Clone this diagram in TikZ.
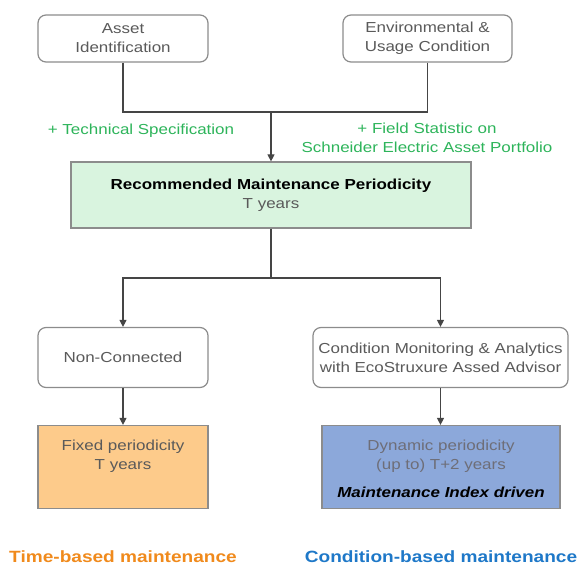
\documentclass[tikz,border=0pt]{standalone}
\usepackage{fontspec}
\setmainfont[FakeStretch=1.17]{Liberation Sans}
\usetikzlibrary{arrows.meta}
\definecolor{boxline}{HTML}{8C8C8C}
\definecolor{txtgray}{HTML}{5A5A5A}
\definecolor{arrgray}{HTML}{454545}
\definecolor{greentxt}{HTML}{2DB45A}
\definecolor{greenfill}{HTML}{D9F4DF}
\definecolor{orangefill}{HTML}{FDCB8B}
\definecolor{bluefill}{HTML}{8CA8DA}
\definecolor{orangetxt}{HTML}{F08A1C}
\definecolor{bluetxt}{HTML}{1E78C8}
\definecolor{dyntxt}{HTML}{6E6E78}
\begin{document}
\begin{tikzpicture}[x=1pt,y=-1pt,
  every node/.style={font=\fontsize{14.5}{19}\selectfont},
  rbox/.style={draw=boxline,line width=1.2pt,rounded corners=8pt,fill=white,text=txtgray,align=center,inner sep=0pt},
  sbox/.style={draw=boxline,line width=1.2pt,align=center,inner sep=0pt,text=txtgray},
  conn/.style={draw=arrgray,line width=1.1pt},
  arr/.style={conn,-{Triangle[length=7pt,width=7pt]}},
  gtext/.style={text=greentxt,align=center},
  btm/.style={font=\fontsize{16.3}{20}\selectfont\bfseries}]
\useasboundingbox (0,0) rectangle (580,565);
\node[rbox,minimum width=170pt,minimum height=47pt] (asset) at (123,38.5) {Asset\\Identification};
\node[rbox,minimum width=169pt,minimum height=47pt] (env) at (427.5,38.5) {Environmental \&\\Usage Condition};
\coordinate (j) at (271,112);
\node[sbox,fill=greenfill,minimum width=400pt,minimum height=66pt] (rec) at (271,195) {\textcolor{black}{\bfseries Recommended Maintenance Periodicity}\\T years};
\node[gtext] (tech) at (141,131) {+ Technical Specification};
\node[gtext] (field) at (427,138) {+ Field Statistic on\\Schneider Electric Asset Portfolio};
\coordinate (s) at (271,278);
\node[rbox,minimum width=170pt,minimum height=60pt] (nc) at (123,357.5) {Non-Connected};
\node[rbox,minimum width=255pt,minimum height=60pt] (cm) at (440.5,357.5) {Condition Monitoring \& Analytics\\with EcoStruxure Assed Advisor};
\node[sbox,fill=orangefill,minimum width=170pt,minimum height=83pt,text depth=0pt] (fix) at (123,467) {};
\node[text=txtgray,align=center] (fixt) at (123,456) {Fixed periodicity\\T years};
\node[sbox,fill=bluefill,minimum width=238pt,minimum height=83pt] (dyn) at (441,467) {};
\node[text=dyntxt,align=center] (dynt) at (441,456) {Dynamic periodicity\\(up to) T+2 years};
\node[text=black,font=\fontsize{14.5}{19}\selectfont\bfseries\itshape] (dynm) at (441,492) {Maintenance Index driven};
\node[btm,text=orangetxt] (tbm) at (123,557) {Time-based maintenance};
\node[btm,text=bluetxt] (cbm) at (441,557) {Condition-based maintenance};
\draw[conn] (asset.south) |- (j);
\draw[conn] (env.south) |- (j);
\draw[arr] (j) -- (rec.north);
\draw[conn] (rec.south) -- (s);
\draw[arr] (s) -| (nc.north);
\draw[arr] (s) -| (cm.north);
\draw[arr] (nc.south) -- (fix.north);
\draw[arr] (cm.south) -- (dyn.north -| cm.south);
\end{tikzpicture}
\end{document}
